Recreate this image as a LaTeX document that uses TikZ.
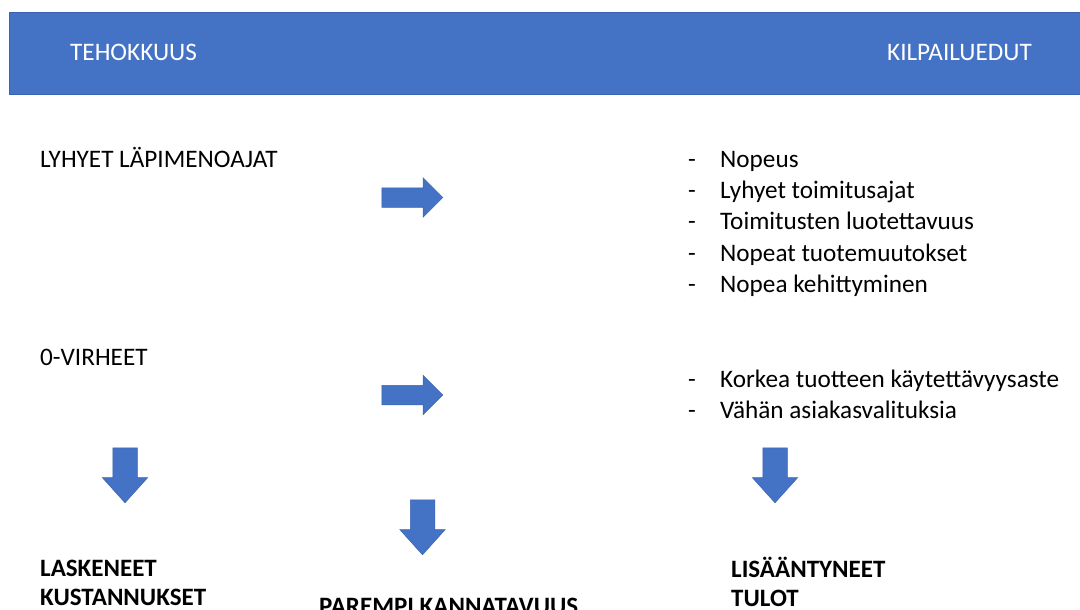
\documentclass[tikz,border=0pt]{standalone}
\usepackage{fontspec}
\setmainfont{Carlito}
\usetikzlibrary{positioning,shapes.arrows}
\definecolor{sininen}{HTML}{4472C4}
\definecolor{reuna}{HTML}{3A64B2}
\newcommand{\viiva}[1]{\makebox[32pt][l]{-}#1}

\begin{document}
\begin{tikzpicture}[x=1pt, y=-1pt,
  teksti/.style={font=\fontsize{25.2}{30}\selectfont, inner sep=0pt, text height=17pt, text depth=5pt, anchor=west},
  lihava/.style={teksti, font=\fontsize{25}{30}\selectfont\bfseries},
  oikealle/.style={single arrow, fill=sininen, draw=reuna, line width=0.5pt, inner xsep=0pt, inner ysep=9.5pt, minimum height=61pt, minimum width=39pt, single arrow head extend=10pt},
  alas/.style={single arrow, rotate=-90, fill=sininen, draw=reuna, line width=0.5pt, inner xsep=0pt, inner ysep=12pt, minimum height=55pt, minimum width=45pt, single arrow head extend=10.5pt, single arrow tip angle=84}]
\useasboundingbox (0,0) rectangle (1080,610);

% otsikkokaista
\node[fill=sininen, draw=reuna, line width=0.6pt, minimum width=1072pt, minimum height=82pt, inner sep=0pt, anchor=north west] (kaista) at (9,12) {};
\node[teksti, text=white] (tehokkuus) at (70,55) {TEHOKKUUS};
\node[teksti, text=white, anchor=east] (kilpailu) at (1032,55) {KILPAILUEDUT};

% vasen sarake
\node[teksti] (lapimeno) at (40,161) {LYHYET LÄPIMENOAJAT};
\node[teksti] (virheet) at (40,359) {0-VIRHEET};

% oikea sarake
\node[teksti] (nopeus) at (688,161) {\viiva{Nopeus}};
\node[teksti, below right=9pt and 0pt of nopeus.south west] (toimitusajat) {\viiva{Lyhyet toimitusajat}};
\node[teksti, below right=9pt and 0pt of toimitusajat.south west] (luotettavuus) {\viiva{Toimitusten luotettavuus}};
\node[teksti, below right=9pt and 0pt of luotettavuus.south west] (muutokset) {\viiva{Nopeat tuotemuutokset}};
\node[teksti, below right=9pt and 0pt of muutokset.south west] (kehitys) {\viiva{Nopea kehittyminen}};
\node[teksti] (kaytettavyys) at (688,381) {\viiva{Korkea tuotteen käytettävyysaste}};
\node[teksti, below right=9pt and 0pt of kaytettavyys.south west] (valitukset) {\viiva{Vähän asiakasvalituksia}};

% nuolet
\node[oikealle] (nuoli1) at (407.5,197.5) {};
\node[oikealle] (nuoli2) at (407.5,395) {};
\node[alas] (alas1) at (125,468.5) {};
\node[alas] (alas2) at (422.5,520.5) {};
\node[alas] (alas3) at (775,468.5) {};

% tulokset
\node[lihava] (laskeneet) at (40,570) {LASKENEET};
\node[lihava, below right=7pt and 0pt of laskeneet.south west] (kustannukset) {KUSTANNUKSET};
\node[lihava] (kannatavuus) at (319,608) {PAREMPI KANNATAVUUS};
\node[lihava] (lisaantyneet) at (731,571) {LISÄÄNTYNEET};
\node[lihava, below right=7pt and 0pt of lisaantyneet.south west] (tulot) {TULOT};
\end{tikzpicture}
\end{document}
